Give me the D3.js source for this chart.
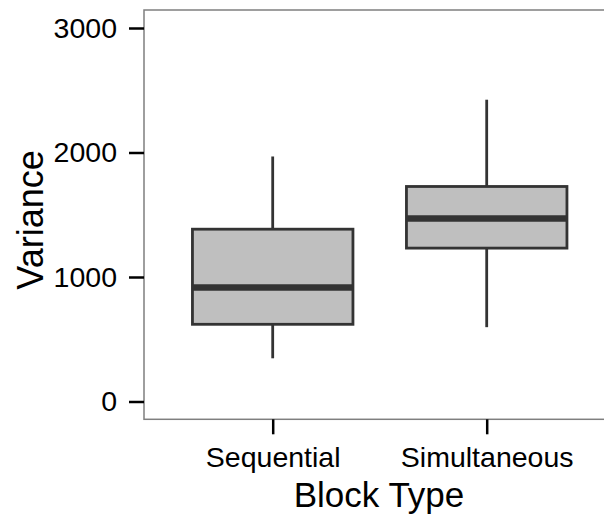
<!DOCTYPE html>
<html>
<head>
<meta charset="utf-8">
<script src="https://cdn.jsdelivr.net/npm/d3@7"></script>
<style>
  html, body { margin: 0; padding: 0; background: #fff; }
  svg { display: block; font-family: "Liberation Sans", Arial, sans-serif; }
</style>
</head>
<body>
<svg id="chart" width="604" height="516"></svg>
<script>
const categories = ["Sequential", "Simultaneous"];
const whiskerLow = [347, 597];
const q1 = [620, 1232];
const median = [915, 1470];
const q3 = [1384, 1727];
const whiskerHigh = [1968, 2424];
const yTicks = [0, 1000, 2000, 3000];

const svg = d3.select("#chart");
const panel = { left: 144, right: 615, top: 10, bottom: 419.3 };

const y = d3.scaleLinear().domain([0, 3000]).range([401.5, 28]);
const x = d3.scalePoint().domain(categories).range([272.7, 486.7]);
const step = x(categories[1]) - x(categories[0]);
const boxW = step * 0.75;

const data = categories.map((c, i) => ({
  cat: c, lo: whiskerLow[i], q1: q1[i], med: median[i], q3: q3[i], hi: whiskerHigh[i]
}));

// panel border
svg.append("rect")
  .attr("x", panel.left).attr("y", panel.top)
  .attr("width", panel.right - panel.left).attr("height", panel.bottom - panel.top)
  .attr("fill", "#fff").attr("stroke", "#7f7f7f").attr("stroke-width", 1.5);

const g = svg.append("g");
const boxes = g.selectAll("g.box").data(data).join("g").attr("class", "box");

boxes.append("line")
  .attr("x1", d => x(d.cat)).attr("x2", d => x(d.cat))
  .attr("y1", d => y(d.q3)).attr("y2", d => y(d.hi))
  .attr("stroke", "#333").attr("stroke-width", 2.8);
boxes.append("line")
  .attr("x1", d => x(d.cat)).attr("x2", d => x(d.cat))
  .attr("y1", d => y(d.q1)).attr("y2", d => y(d.lo))
  .attr("stroke", "#333").attr("stroke-width", 2.8);
boxes.append("rect")
  .attr("x", d => x(d.cat) - boxW / 2).attr("width", boxW)
  .attr("y", d => y(d.q3)).attr("height", d => y(d.q1) - y(d.q3))
  .attr("fill", "#bfbfbf").attr("stroke", "#333").attr("stroke-width", 2.8);
boxes.append("line")
  .attr("x1", d => x(d.cat) - boxW / 2).attr("x2", d => x(d.cat) + boxW / 2)
  .attr("y1", d => y(d.med)).attr("y2", d => y(d.med))
  .attr("stroke", "#333").attr("stroke-width", 6.5);

// y axis
const yAxis = svg.append("g")
  .attr("transform", `translate(${panel.left},0)`)
  .call(d3.axisLeft(y).tickValues(yTicks).tickFormat(d3.format("d")).tickSize(15).tickPadding(12));
yAxis.select(".domain").remove();
yAxis.selectAll(".tick line").attr("stroke", "#000").attr("stroke-width", 2.5);
yAxis.selectAll(".tick text").attr("font-size", 28.5).attr("fill", "#000")
  .attr("font-family", "Liberation Sans, Arial, sans-serif");

// x axis
const xAxis = svg.append("g")
  .attr("transform", `translate(0,${panel.bottom})`)
  .call(d3.axisBottom(x).tickSize(15).tickPadding(12));
xAxis.select(".domain").remove();
xAxis.selectAll(".tick line").attr("stroke", "#000").attr("stroke-width", 2.5);
xAxis.selectAll(".tick text").attr("font-size", 28.5).attr("fill", "#000")
  .attr("font-family", "Liberation Sans, Arial, sans-serif");

// axis titles
svg.append("text")
  .attr("x", 379).attr("y", 507)
  .attr("text-anchor", "middle")
  .attr("font-size", 35).attr("fill", "#000")
  .text("Block Type");
svg.append("text")
  .attr("transform", "translate(43,220) rotate(-90)")
  .attr("text-anchor", "middle")
  .attr("font-size", 36).attr("fill", "#000")
  .text("Variance");
</script>
</body>
</html>
